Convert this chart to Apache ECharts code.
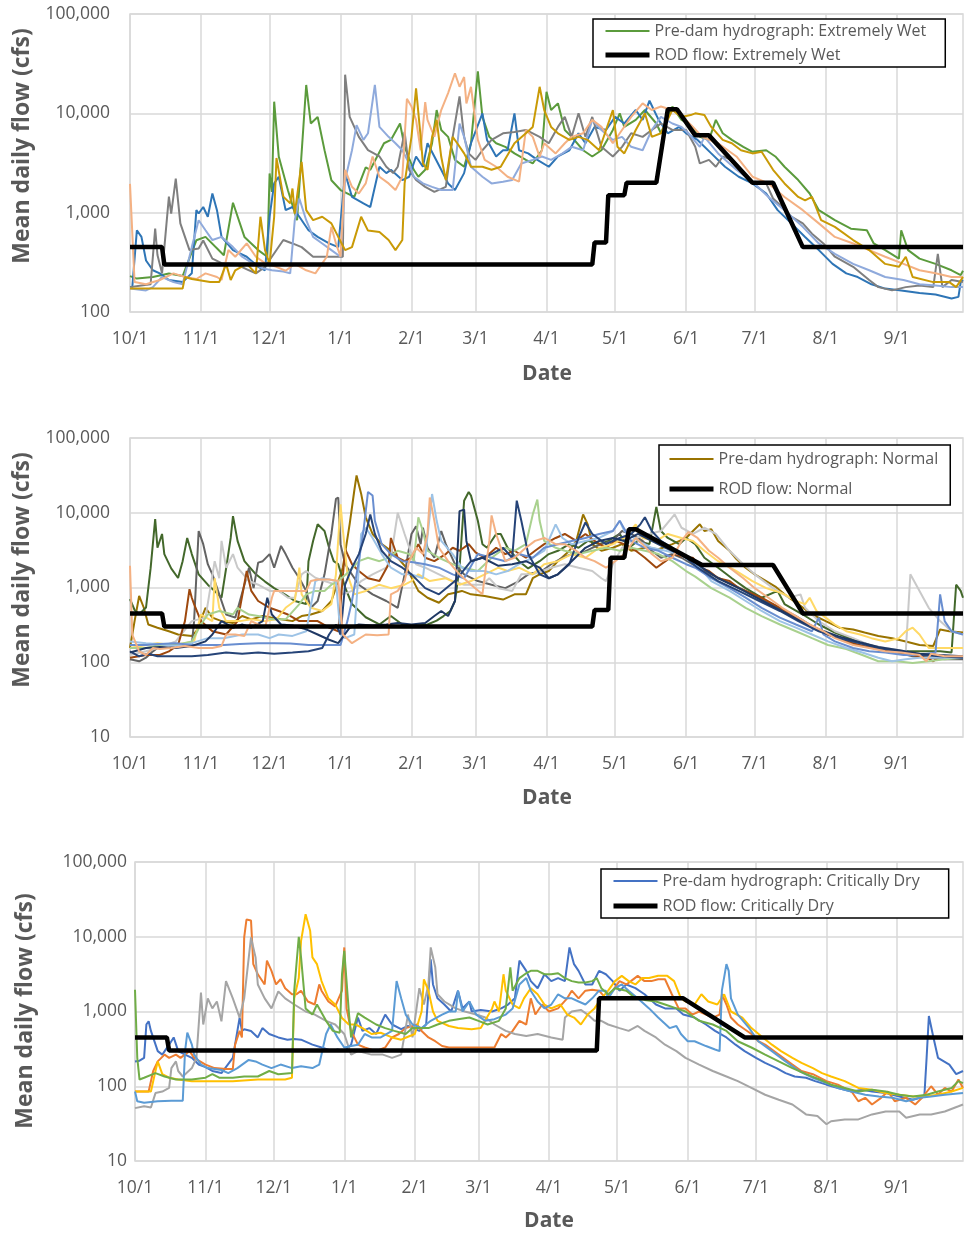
<!DOCTYPE html>
<html>
<head>
<meta charset="utf-8">
<script src="https://cdn.jsdelivr.net/npm/echarts@6/dist/echarts.min.js"></script>
<style>
html, body { margin: 0; padding: 0; background: #ffffff; }
#chart { width: 965px; height: 1237px; }
</style>
</head>
<body>
<div id="chart"></div>
<script>
// Water year runs 10/1 .. 9/30; x positions are day indices into dayLabels.
const monthNumbers = [10, 11, 12, 1, 2, 3, 4, 5, 6, 7, 8, 9];
const monthLengths = [31, 30, 31, 31, 28, 31, 30, 31, 30, 31, 31, 30];
const yTickMax = 100000;

// ---- Extremely Wet: pre-dam hydrographs [day, cfs] ----
const wetGreen = [[0,230],[3,217],[10,225],[17,244],[23,230],[27,400],[29,527],[33,570],[41,373],[45,1260],[50,570],[56,420],[60,360],[61,2480],[62,1620],[63,13100],[65,3670],[69,1680],[73,840],[77,19300],[79,7900],[82,9200],[85,4260],[88,2120],[92,1690],[98,1440],[103,2860],[105,2700],[108,3680],[111,5000],[114,5400],[118,7900],[120,4600],[122,3500],[124,2700],[126,2300],[129,2700],[132,5000],[134,10800],[136,6800],[139,5800],[142,3400],[146,2900],[149,5000],[152,26500],[154,9200],[157,5800],[160,5000],[164,4600],[168,3950],[173,3400],[176,3130],[180,4250],[182,16500],[184,10800],[187,12600],[190,6800],[193,5800],[198,4250],[202,3680],[206,4250],[211,6800],[214,10000],[216,7300],[221,8600],[225,10800],[230,7900],[232,6300],[237,11700],[241,8600],[244,7900],[249,5800],[253,5400],[256,8600],[259,6300],[263,5400],[268,4600],[272,4100],[278,4250],[282,3680],[286,2900],[292,2130],[297,1560],[301,1060],[308,840],[315,690],[322,665],[325,490],[330,420],[336,345],[337,665],[340,420],[345,345],[352,305],[359,263],[363,235],[364,260]];
const wetBlue = [[0,178],[1,178],[3,665],[5,570],[7,330],[10,263],[13,245],[17,210],[23,200],[27,245],[29,1060],[30,980],[32,1140],[34,910],[36,1560],[38,1060],[40,570],[45,420],[51,360],[56,285],[59,263],[61,910],[63,1970],[65,2300],[68,1060],[71,1140],[74,910],[78,665],[82,570],[87,490],[91,450],[94,2500],[97,1440],[102,1240],[105,1140],[109,2900],[112,2500],[114,2700],[119,2130],[122,2300],[125,3680],[128,2900],[130,5000],[133,3680],[136,2700],[139,1970],[142,1690],[146,2500],[149,5000],[154,10000],[156,5400],[160,3680],[163,4250],[165,4250],[168,10000],[170,4250],[174,3950],[178,3400],[183,2900],[187,3680],[192,4250],[196,6300],[199,5000],[203,7300],[208,6800],[212,9200],[216,7900],[221,10800],[224,8600],[227,13400],[231,8600],[235,6300],[240,7300],[243,6300],[248,5400],[254,3950],[260,2900],[266,2300],[272,1970],[278,1560],[283,1060],[289,780],[295,570],[301,420],[307,305],[313,245],[318,225],[324,190],[330,172],[337,165],[345,155],[352,150],[359,137],[362,142],[363,200],[364,210]];
const wetGray = [[0,178],[5,185],[9,190],[11,690],[12,375],[14,245],[17,1450],[18,980],[20,2200],[22,780],[26,420],[30,435],[32,525],[36,345],[40,310],[46,305],[52,263],[55,245],[59,285],[62,360],[67,530],[71,490],[75,450],[80,360],[85,360],[93,360],[94,24500],[96,9200],[100,5800],[104,4260],[109,3680],[112,2900],[115,2500],[117,2900],[120,6500],[122,2700],[125,2130],[129,1820],[133,1620],[138,1820],[141,5800],[143,10800],[144,14800],[146,5800],[148,3950],[151,3400],[154,4250],[158,5400],[163,6300],[168,6500],[173,6800],[179,5800],[183,5000],[187,7300],[190,9200],[193,5800],[196,10000],[199,5800],[202,9200],[206,4600],[211,3680],[215,4600],[219,6300],[224,5800],[228,6800],[232,7900],[237,6800],[243,6800],[247,4600],[249,3130],[253,3400],[256,2900],[259,3680],[263,3400],[268,2500],[273,1970],[278,1970],[281,1390],[285,1140],[289,910],[294,780],[298,615],[303,490],[308,360],[316,285],[323,210],[327,178],[333,165],[339,178],[345,185],[351,178],[353,385],[355,178],[359,210],[364,200]];
const wetLightBlue = [[0,172],[7,165],[10,178],[14,225],[19,200],[23,190],[27,450],[30,840],[33,665],[36,530],[40,570],[45,450],[49,360],[54,305],[58,275],[62,263],[67,255],[70,245],[72,840],[74,1390],[77,840],[80,570],[84,490],[88,420],[92,360],[94,2130],[97,4250],[99,7600],[102,5400],[104,6300],[107,19300],[109,7300],[113,5800],[116,5000],[119,4250],[122,3130],[124,2300],[128,1970],[132,1820],[136,1690],[141,1690],[144,7900],[146,5800],[149,2900],[154,2300],[158,1970],[163,2050],[167,2130],[171,3130],[176,3400],[180,3680],[184,3400],[189,3950],[193,4600],[198,4250],[202,8600],[206,6800],[211,5400],[215,5800],[219,4600],[224,4250],[228,6800],[232,9200],[237,7900],[241,7300],[244,6300],[249,4600],[251,5800],[257,3950],[265,2700],[272,2050],[279,1440],[286,1060],[294,720],[301,490],[308,385],[316,305],[323,263],[330,225],[338,210],[345,190],[352,185],[359,178],[364,178]];
const wetSalmon = [[0,1950],[2,200],[7,190],[13,210],[19,245],[24,225],[29,215],[33,245],[38,225],[40,210],[43,420],[46,360],[51,490],[55,360],[59,310],[64,285],[68,260],[72,305],[77,263],[81,245],[86,360],[88,720],[90,490],[92,360],[94,2700],[97,1820],[100,1560],[103,1970],[106,3680],[109,2300],[113,1970],[116,1690],[119,2300],[121,14000],[123,11700],[125,8600],[127,4250],[129,13000],[130,8600],[133,5800],[136,10800],[139,16000],[142,25300],[144,18500],[146,23200],[147,12600],[149,18500],[152,5400],[155,3400],[160,2900],[165,2300],[170,2050],[173,6800],[176,5800],[179,3650],[181,5000],[186,3950],[190,5000],[193,5800],[198,6300],[202,8600],[206,7300],[211,5000],[215,6800],[219,9200],[224,12600],[228,10800],[232,11700],[237,10800],[242,9000],[246,7300],[250,5800],[257,5000],[265,3680],[272,2300],[279,1970],[286,1440],[294,1060],[301,780],[308,570],[316,490],[323,420],[330,360],[338,305],[345,263],[352,245],[359,225],[364,225]];
const wetGold = [[0,172],[10,172],[23,172],[24,225],[27,215],[35,200],[39,200],[42,305],[44,210],[46,263],[51,305],[55,245],[57,910],[59,420],[61,305],[63,910],[64,3550],[67,1450],[70,1240],[71,1750],[72,980],[75,3250],[77,1060],[80,840],[84,910],[88,780],[91,570],[94,420],[97,450],[101,910],[104,660],[109,640],[113,530],[116,420],[119,530],[120,1970],[123,5800],[125,17800],[127,5800],[128,3130],[130,2690],[132,5800],[134,8600],[136,3650],[138,2130],[141,5800],[143,5000],[146,3950],[149,2900],[154,2900],[158,2700],[162,2900],[168,5000],[173,6300],[176,7300],[179,18500],[181,10800],[184,7300],[187,6300],[192,5400],[196,5800],[200,5400],[205,4250],[211,10800],[213,4600],[216,3950],[221,6800],[225,10000],[228,5800],[232,6300],[237,10800],[241,9200],[245,9600],[247,10000],[251,9600],[254,7300],[259,5400],[263,5000],[267,4250],[272,3950],[276,4100],[281,2700],[286,1970],[292,1440],[295,1330],[298,1440],[302,840],[308,720],[316,530],[323,420],[330,305],[336,285],[339,360],[342,225],[351,200],[358,200],[361,178],[364,225]];
const wetRod = [[0,450],[14,450],[15,300],[202,300],[203,500],[208,500],[209,1500],[216,1500],[217,2000],[230,2000],[235,11000],[239,11000],[247,6000],[253,6000],[272,2000],[281,2000],[294,450],[364,450]];

// ---- Normal: pre-dam hydrographs [day, cfs] ----
const normOlive = [[0,155],[2,355],[4,770],[6,540],[8,320],[12,290],[17,260],[21,235],[27,225],[29,260],[33,535],[36,395],[40,355],[45,335],[49,415],[53,375],[58,415],[62,395],[66,375],[71,355],[75,415],[79,435],[84,485],[88,660],[93,1840],[96,7100],[98,19700],[99,31500],[101,18000],[103,8700],[106,5200],[110,3800],[114,3100],[117,2500],[121,1800],[126,900],[130,730],[135,625],[139,810],[142,850],[145,900],[149,810],[155,770],[163,690],[168,810],[173,810],[176,1330],[179,1500],[183,1660],[187,2250],[192,3100],[195,4200],[198,9500],[200,7000],[202,3800],[206,3100],[211,3400],[215,3800],[219,3100],[225,3400],[231,3250],[237,3800],[243,4600],[246,5700],[249,7000],[251,5700],[254,6000],[257,4200],[262,3100],[265,2400],[269,1840],[273,1500],[278,1220],[282,1030],[286,810],[292,600],[298,435],[304,355],[310,290],[316,275],[321,250],[327,225],[333,210],[339,190],[345,170],[351,165],[354,275],[358,260],[364,250]];
const normDarkGreen = [[0,700],[2,500],[4,440],[7,540],[9,1800],[11,8200],[12,3400],[14,5200],[15,2800],[18,1800],[21,1340],[23,2250],[25,4600],[27,2800],[30,1500],[34,1090],[37,900],[40,730],[42,1800],[44,4600],[45,9000],[47,4200],[50,2250],[55,1500],[59,1200],[63,980],[68,800],[72,660],[77,600],[78,2250],[80,4200],[82,7000],[85,5700],[87,3400],[89,2250],[91,2050],[94,1000],[97,600],[103,400],[109,320],[114,415],[119,320],[123,300],[130,320],[134,360],[137,415],[140,485],[142,660],[144,1840],[146,14500],[148,19000],[149,17000],[152,7800],[154,3800],[156,3400],[160,5200],[162,5200],[165,3400],[170,2250],[174,1800],[179,2250],[183,2800],[187,3100],[192,3800],[196,3400],[200,4200],[205,3800],[209,4200],[214,5200],[218,3400],[222,4200],[227,3800],[230,12000],[232,5700],[235,4600],[240,3800],[243,4600],[247,3800],[251,2500],[257,1840],[263,1330],[269,980],[276,730],[283,900],[286,600],[294,435],[301,320],[308,250],[316,200],[323,170],[330,150],[338,140],[345,140],[354,140],[359,135],[361,1090],[363,900],[364,730]];
const normDarkGray = [[0,110],[4,103],[7,115],[10,140],[12,155],[17,155],[21,165],[27,170],[28,355],[30,5700],[32,3800],[34,2050],[36,1500],[39,810],[42,435],[46,395],[50,1090],[52,1840],[54,980],[56,2150],[58,2250],[61,2800],[63,1840],[66,3600],[68,2800],[71,1840],[74,1330],[77,900],[79,535],[82,660],[85,1500],[88,5200],[90,15300],[91,16000],[92,3800],[94,2050],[100,1090],[106,810],[112,660],[117,535],[120,1500],[123,5200],[125,6600],[127,3800],[128,6300],[130,3400],[133,2500],[136,5700],[138,3800],[142,2050],[146,1500],[152,1220],[158,1090],[164,980],[170,1220],[174,1500],[180,1660],[184,2050],[189,2500],[193,2800],[198,2950],[202,3400],[206,3800],[211,4200],[215,5700],[219,5200],[224,4200],[228,3100],[232,2500],[237,2800],[241,2500],[247,1950],[254,1500],[262,1140],[269,900],[276,700],[284,535],[291,415],[298,305],[305,235],[313,190],[320,165],[327,150],[335,135],[342,120],[349,115],[356,110],[364,110]];
const normLightGray = [[0,125],[7,140],[12,155],[20,190],[27,355],[33,395],[37,2250],[39,1330],[40,4200],[42,1840],[45,2800],[47,1840],[52,1220],[56,1090],[61,900],[65,900],[69,730],[72,730],[75,1500],[77,1660],[81,1350],[85,1220],[90,1090],[93,810],[97,900],[101,1220],[106,1500],[112,1840],[114,2500],[117,10000],[120,5200],[123,2800],[125,2050],[129,1840],[135,1500],[141,1220],[146,1090],[154,1090],[157,1330],[161,980],[167,900],[171,1500],[176,1500],[180,1660],[184,1840],[190,2050],[196,1840],[202,1660],[206,1330],[208,1220],[211,2050],[215,3400],[221,4600],[227,5200],[232,5700],[238,9500],[241,6300],[246,5200],[251,6300],[256,5200],[262,3100],[268,2050],[273,1500],[281,980],[288,730],[293,810],[295,535],[301,355],[308,260],[316,210],[323,170],[330,155],[339,140],[341,1500],[345,900],[349,535],[354,355],[359,260],[364,235]];
const normBrown = [[0,115],[7,125],[13,125],[17,140],[21,170],[24,355],[26,950],[27,730],[28,600],[31,355],[36,260],[42,235],[47,355],[51,1660],[53,900],[56,660],[61,535],[65,485],[69,435],[74,355],[82,355],[87,290],[91,260],[94,3250],[97,2050],[100,1660],[104,1330],[109,1220],[113,2050],[114,4600],[117,2500],[120,2250],[123,2500],[126,3800],[129,2500],[133,2250],[138,2800],[141,3400],[144,3100],[148,3800],[151,2950],[155,2500],[160,3400],[164,2800],[168,3100],[173,2500],[177,3100],[181,3800],[186,4600],[190,5200],[195,4200],[199,5200],[203,4200],[208,3400],[212,4200],[216,3800],[221,3100],[225,2500],[230,1840],[234,2250],[238,2800],[243,2500],[246,2500],[249,1840],[253,1660],[257,1330],[262,1220],[266,980],[269,900],[276,730],[284,535],[291,395],[298,290],[305,235],[313,190],[320,165],[327,150],[335,140],[342,125],[348,115],[351,103],[354,120],[359,115],[364,115]];
const normYellow = [[0,155],[7,170],[12,180],[18,170],[24,180],[28,190],[31,435],[36,355],[37,1330],[39,535],[42,355],[48,355],[53,375],[59,355],[64,375],[68,535],[72,660],[74,1840],[75,810],[79,535],[84,485],[88,600],[90,1500],[92,13000],[93,6000],[95,1500],[98,810],[103,900],[109,1090],[114,980],[120,1090],[123,1220],[126,1500],[131,1220],[138,1330],[144,1090],[149,1220],[155,1500],[161,1840],[165,1660],[170,1840],[176,1500],[181,2050],[187,2250],[193,2800],[199,2500],[205,3400],[211,3800],[216,4600],[221,7000],[224,4600],[230,4200],[235,5200],[241,4600],[246,4200],[251,3100],[257,2250],[265,1660],[272,1220],[278,980],[282,900],[286,810],[291,660],[295,600],[297,730],[300,485],[304,395],[308,320],[313,260],[319,235],[324,210],[330,190],[336,210],[339,260],[342,290],[345,235],[349,155],[359,155],[364,155]];
const normLightGreen = [[0,155],[7,155],[13,170],[20,170],[27,190],[31,320],[34,435],[39,485],[45,435],[47,535],[52,435],[56,415],[62,375],[68,375],[74,600],[77,810],[81,900],[85,900],[88,1090],[91,1220],[96,1660],[100,2250],[104,2500],[109,2250],[113,2500],[117,3100],[122,2800],[124,2250],[126,8700],[128,5700],[130,3100],[135,2500],[141,2050],[146,1840],[152,1660],[158,2500],[164,3400],[168,3100],[173,3800],[176,9500],[178,15000],[179,7800],[181,4200],[186,3400],[190,3100],[196,2800],[202,3100],[208,3400],[214,3100],[219,3400],[225,3100],[231,2800],[237,2250],[243,1660],[247,1400],[254,980],[262,730],[269,535],[276,415],[284,320],[291,260],[298,210],[305,170],[313,150],[320,125],[327,103],[335,103],[342,98],[349,103],[356,110],[364,115]];
const normLightBlue = [[0,190],[7,180],[12,175],[20,165],[27,180],[34,210],[41,210],[49,235],[56,235],[61,210],[65,235],[71,225],[77,260],[81,1220],[84,1330],[87,1280],[90,1220],[92,235],[94,210],[98,235],[101,5200],[103,6300],[106,4600],[110,2800],[114,1840],[119,1500],[123,1500],[128,1330],[132,17800],[134,7800],[136,4200],[141,2800],[145,1840],[149,1660],[155,1660],[160,1500],[165,1660],[170,2050],[176,2500],[181,3100],[186,7000],[189,4600],[193,3800],[199,4200],[205,4600],[211,5700],[214,7800],[216,5700],[222,4200],[228,3400],[234,3100],[240,2800],[245,2250],[249,1840],[254,1220],[262,900],[269,660],[276,485],[284,355],[291,290],[298,235],[305,190],[313,155],[320,135],[327,115],[333,103],[339,110],[345,115],[364,115]];
const normMedBlue = [[0,170],[7,170],[13,175],[20,180],[27,170],[34,170],[41,170],[48,175],[56,180],[63,180],[70,178],[78,170],[85,170],[92,170],[95,355],[97,660],[100,2250],[102,5700],[104,19000],[106,17000],[107,7800],[110,3800],[114,2800],[119,2250],[123,2200],[129,2050],[135,1840],[141,1500],[146,1330],[152,2800],[158,2500],[164,2250],[170,2800],[176,2500],[181,3400],[187,3800],[193,4200],[199,4600],[205,5200],[211,5700],[214,7800],[219,4200],[225,3400],[231,3100],[237,2500],[243,2050],[247,1840],[254,1330],[262,980],[269,730],[276,535],[284,395],[291,320],[298,260],[301,395],[303,235],[308,190],[316,155],[323,140],[330,135],[338,125],[345,125],[352,135],[354,810],[356,355],[359,260],[364,235]];
const normNavyA = [[0,140],[4,120],[8,130],[12,120],[20,120],[27,120],[34,125],[42,135],[49,130],[56,135],[63,130],[71,135],[78,140],[84,155],[87,235],[90,320],[92,235],[94,1090],[97,1840],[100,2800],[103,5200],[105,9500],[107,5200],[110,3100],[114,2250],[119,1840],[123,1500],[129,980],[135,810],[142,1220],[149,2250],[154,2500],[158,2800],[163,3400],[167,2500],[169,14500],[171,7800],[174,2800],[179,1500],[183,1330],[187,1500],[192,2050],[196,4600],[199,7400],[202,5200],[208,3800],[214,4600],[219,5200],[223,7000],[225,8700],[228,5700],[232,4200],[237,3400],[243,2500],[248,1840],[257,1220],[266,900],[275,660],[284,485],[292,355],[301,260],[310,210],[319,180],[327,155],[336,140],[345,125],[354,120],[364,115]];
const normNavyB = [[0,135],[7,155],[13,160],[20,155],[27,165],[33,190],[36,235],[40,355],[45,290],[49,320],[53,290],[58,355],[60,730],[62,435],[66,320],[71,310],[77,275],[82,235],[87,200],[91,180],[96,290],[100,320],[106,310],[112,320],[117,335],[123,320],[129,335],[133,415],[136,485],[139,415],[142,660],[144,10500],[146,11000],[147,4200],[149,2250],[154,2500],[161,1950],[167,2050],[173,2250],[179,1840],[183,1330],[187,1500],[193,2250],[199,3400],[205,4200],[211,4600],[216,4200],[222,5200],[228,4200],[234,3400],[240,2800],[246,2250],[250,1840],[257,1330],[266,980],[275,700],[284,500],[292,370],[301,275],[310,220],[319,185],[327,160],[336,145],[345,130],[354,125],[364,120]];
const normSalmon = [[0,1950],[1,235],[4,140],[7,125],[10,155],[13,150],[18,155],[24,165],[30,155],[36,155],[40,165],[42,235],[46,235],[50,225],[53,355],[56,320],[59,290],[62,730],[63,900],[68,900],[72,900],[77,900],[79,1220],[82,1280],[87,1280],[91,1220],[93,235],[97,180],[103,235],[108,230],[113,235],[114,810],[117,900],[120,1220],[122,2250],[125,3400],[128,2800],[130,5200],[131,16000],[133,7800],[135,3400],[139,2250],[144,1500],[149,1090],[154,810],[157,4200],[158,9200],[160,5200],[164,2250],[168,2500],[173,3400],[177,4200],[181,4600],[186,3800],[190,3800],[195,3100],[199,2500],[203,2250],[208,1840],[212,2250],[216,2800],[221,4600],[224,3800],[228,2800],[232,2250],[237,2500],[241,4200],[244,5500],[248,4600],[253,3100],[257,2500],[262,1840],[268,1330],[273,980],[279,730],[285,535],[291,415],[297,320],[303,260],[308,210],[316,170],[323,155],[330,140],[337,135],[345,125],[348,103],[350,130],[356,120],[364,120]];
const normRod = [[0,450],[14,450],[15,300],[202,300],[203,500],[209,500],[210,2500],[216,2500],[218,6000],[221,6000],[250,2000],[281,2000],[294,450],[364,450]];

// ---- Critically Dry: pre-dam hydrographs [day, cfs] ----
const dryBlue = [[0,215],[2,220],[4,240],[5,670],[6,740],[7,550],[10,295],[12,265],[15,360],[17,450],[19,295],[22,265],[25,240],[28,195],[31,180],[34,160],[38,150],[43,240],[46,830],[47,550],[48,580],[51,550],[54,450],[56,600],[59,500],[63,450],[67,420],[70,430],[73,420],[78,360],[82,330],[87,295],[89,310],[92,295],[95,360],[98,830],[100,550],[103,600],[106,500],[110,910],[113,670],[117,580],[120,640],[125,550],[128,670],[130,5000],[131,2300],[133,1500],[136,1240],[139,1000],[142,1900],[144,1100],[147,1360],[148,1000],[152,1050],[157,1000],[161,1100],[164,1240],[167,1500],[169,4800],[172,3500],[174,2550],[177,2050],[180,3150],[183,2550],[186,2800],[189,2550],[191,7200],[193,4300],[195,3500],[198,2300],[201,2300],[204,3500],[207,3150],[210,2550],[213,1900],[216,2300],[220,2050],[224,1700],[229,1240],[233,1100],[238,1100],[241,910],[246,830],[251,670],[255,550],[260,450],[264,360],[268,295],[273,240],[277,205],[282,175],[286,150],[290,135],[295,130],[299,117],[304,105],[309,95],[315,85],[320,90],[324,85],[330,81],[336,73],[342,66],[347,73],[348,240],[349,870],[351,450],[353,240],[358,195],[361,145],[364,160]];
const dryOrange = [[0,85],[6,85],[8,160],[10,215],[13,265],[15,240],[18,265],[20,240],[24,295],[26,240],[31,195],[35,175],[40,170],[43,170],[44,360],[46,550],[47,450],[48,9800],[49,17000],[51,16500],[52,4300],[54,3150],[57,2300],[58,4800],[60,3500],[62,2300],[64,2700],[66,2050],[69,1700],[71,1700],[73,1900],[76,1360],[79,1240],[81,2300],[82,1900],[85,1360],[88,1170],[91,1900],[92,7200],[93,1100],[95,550],[98,360],[101,330],[106,295],[110,330],[113,450],[116,500],[119,600],[122,640],[124,670],[126,550],[129,450],[132,400],[135,345],[138,330],[148,330],[158,330],[161,500],[163,450],[166,550],[169,750],[172,670],[174,1500],[176,910],[179,1240],[182,1000],[186,1100],[190,1500],[192,1900],[195,1500],[198,1900],[201,1950],[204,1900],[207,1500],[210,1900],[213,2550],[216,2300],[218,2550],[221,3000],[224,2550],[227,2550],[230,2700],[233,2700],[236,1700],[239,1100],[242,1100],[245,910],[248,1000],[251,910],[254,830],[257,910],[258,1700],[260,1240],[262,830],[265,670],[271,500],[274,400],[277,360],[283,265],[289,195],[293,160],[298,145],[304,117],[309,105],[315,85],[318,63],[321,70],[324,57],[328,70],[331,85],[334,63],[339,70],[343,57],[346,70],[350,100],[353,77],[356,95],[359,85],[362,123],[364,95]];
const dryGray = [[0,51],[4,54],[7,52],[9,81],[12,85],[15,95],[16,175],[18,215],[19,160],[21,135],[25,175],[27,240],[29,1790],[30,670],[32,1500],[34,1100],[36,1360],[38,740],[40,2550],[43,1500],[46,830],[48,1500],[51,9800],[53,5300],[54,2300],[57,1500],[60,1100],[63,1860],[66,1500],[70,1240],[75,1000],[79,910],[84,750],[88,670],[92,500],[95,265],[98,295],[104,265],[109,265],[113,240],[117,265],[120,910],[122,450],[125,2050],[127,1240],[129,2300],[130,7200],[132,3900],[133,1700],[136,1360],[141,1100],[145,1000],[150,910],[154,830],[158,670],[163,550],[167,500],[172,470],[177,500],[183,450],[188,420],[189,830],[192,1000],[196,1050],[199,910],[202,750],[205,750],[208,670],[213,600],[217,550],[221,640],[224,550],[229,450],[233,360],[238,295],[242,240],[248,195],[254,160],[260,135],[265,117],[271,95],[277,77],[283,66],[289,57],[295,42],[300,40],[304,31],[306,34],[312,36],[318,36],[324,42],[330,46],[336,46],[339,38],[345,42],[350,42],[356,46],[362,54],[364,57]];
const dryYellow = [[0,85],[7,85],[9,160],[10,215],[12,145],[15,130],[19,123],[25,117],[37,117],[43,117],[54,123],[66,123],[69,130],[70,1500],[72,2800],[73,8800],[75,20000],[77,12000],[78,5300],[80,4300],[82,2550],[85,1500],[88,1240],[91,820],[94,670],[97,670],[100,600],[104,500],[108,520],[113,450],[117,420],[120,460],[123,500],[126,1000],[127,2700],[129,1900],[131,1000],[133,750],[138,640],[142,600],[148,580],[152,600],[157,1100],[158,1360],[160,1000],[162,3150],[163,1900],[166,1240],[169,1100],[171,1500],[174,2050],[177,1700],[180,1240],[183,1100],[187,1240],[190,910],[193,830],[196,670],[199,910],[202,1100],[205,1500],[208,1900],[211,2550],[214,3000],[217,2550],[220,2300],[223,2800],[226,2800],[230,3000],[234,3000],[237,2550],[240,1500],[242,1360],[246,1240],[249,1700],[252,1360],[256,1240],[259,1700],[262,1000],[267,830],[271,600],[276,450],[280,360],[284,295],[289,240],[293,205],[298,175],[302,150],[306,135],[312,117],[318,95],[324,90],[330,81],[336,77],[342,73],[347,73],[353,77],[359,85],[364,95]];
const dryLightBlue = [[0,85],[1,63],[4,60],[10,63],[16,64],[21,64],[22,295],[23,520],[25,360],[26,265],[29,195],[32,175],[35,170],[38,165],[41,150],[45,175],[50,225],[53,215],[56,195],[60,175],[64,195],[69,175],[73,185],[78,175],[81,195],[84,500],[86,670],[89,450],[92,330],[95,345],[98,360],[101,500],[104,450],[108,450],[113,550],[115,2550],[117,1500],[119,910],[122,670],[126,600],[130,750],[135,910],[138,1000],[141,1000],[142,1900],[144,1000],[147,1360],[150,910],[154,750],[158,790],[163,910],[166,1100],[169,2300],[172,2800],[174,1900],[177,1360],[180,1100],[183,1240],[186,1700],[189,1500],[192,1500],[195,1360],[198,1240],[201,1500],[204,1900],[207,1900],[208,1500],[211,2050],[214,2300],[217,1900],[221,1500],[226,1100],[230,830],[235,600],[238,640],[240,500],[243,400],[246,400],[251,345],[255,310],[257,295],[258,1900],[260,4300],[261,3500],[262,1500],[265,910],[270,600],[274,400],[280,295],[286,215],[292,160],[298,130],[304,110],[309,95],[315,85],[321,77],[327,73],[333,70],[339,63],[345,70],[350,73],[356,77],[364,81]];
const dryGreen = [[0,1950],[1,240],[2,123],[4,130],[9,150],[13,135],[18,123],[25,123],[31,130],[34,145],[37,130],[43,130],[48,135],[54,135],[59,160],[63,145],[69,150],[70,1900],[72,10000],[73,5300],[75,1100],[78,910],[80,1240],[84,750],[87,550],[90,520],[91,3150],[92,6500],[94,1000],[95,450],[98,950],[101,830],[106,670],[110,600],[114,550],[119,500],[122,600],[125,600],[129,600],[133,670],[138,750],[142,790],[147,830],[151,750],[155,670],[160,750],[163,1100],[165,3900],[166,1900],[169,2800],[172,3250],[174,3500],[177,3500],[180,3150],[183,3150],[186,3250],[189,2800],[192,2550],[195,2450],[198,2450],[201,2550],[203,2800],[205,2050],[208,1700],[211,2050],[216,1900],[220,1500],[224,1430],[229,1360],[233,1240],[238,1100],[242,1000],[248,750],[254,670],[260,550],[265,400],[271,330],[277,265],[283,215],[289,175],[295,145],[301,123],[306,105],[312,95],[318,85],[324,90],[330,85],[336,77],[342,73],[348,77],[353,85],[359,95],[362,117],[364,110]];
const dryRod = [[0,450],[14,450],[15,300],[203,300],[204,1500],[241,1500],[268,450],[364,450]];

// ---- axis labels ----
const dayLabels = [];
monthNumbers.forEach((m, i) => {
  for (let d = 1; d <= monthLengths[i]; d++) dayLabels.push(m + '/' + d);
});
const isMonthStart = (idx, val) => String(val).endsWith('/1');

const FONT = '"Open Sans", Lato, sans-serif';
const TEXT = '#595959';
const GRIDLINE = '#D9D9D9';
const HYDRO_WIDTH = 2;
const ROD_WIDTH = 4.5;

const panels = [
  {
    grid: { left: 130, top: 14, width: 833, height: 298 },
    yMin: 100, labelMargin: 20,
    legend: { left: 593, top: 19, padding: [2, 19, 2, 10], itemGap: 4 },
    titleY: { x: 22, y: 146 }, titleX: { x: 547, y: 374 },
    rodName: 'ROD flow: Extremely Wet',
    hydro: [
      { name: 'Pre-dam hydrograph: Extremely Wet', color: '#5B9B3C', data: wetGreen },
      { name: 'Extremely Wet B', color: '#2E75B6', data: wetBlue },
      { name: 'Extremely Wet C', color: '#7F7F7F', data: wetGray },
      { name: 'Extremely Wet D', color: '#8FAADC', data: wetLightBlue },
      { name: 'Extremely Wet E', color: '#F4B183', data: wetSalmon },
      { name: 'Extremely Wet F', color: '#C99A06', data: wetGold }
    ],
    rod: wetRod
  },
  {
    grid: { left: 130, top: 438, width: 833, height: 299 },
    yMin: 10, labelMargin: 20,
    legend: { left: 659, top: 445, padding: [4, 12, 6, 8], itemGap: 10 },
    titleY: { x: 22, y: 570 }, titleX: { x: 547, y: 798 },
    rodName: 'ROD flow: Normal',
    hydro: [
      { name: 'Pre-dam hydrograph: Normal', color: '#997300', data: normOlive },
      { name: 'Normal B', color: '#43682B', data: normDarkGreen },
      { name: 'Normal C', color: '#636363', data: normDarkGray },
      { name: 'Normal D', color: '#C9C9C9', data: normLightGray },
      { name: 'Normal E', color: '#9E480E', data: normBrown },
      { name: 'Normal F', color: '#FFD966', data: normYellow },
      { name: 'Normal G', color: '#A9D18E', data: normLightGreen },
      { name: 'Normal H', color: '#9DC3E6', data: normLightBlue },
      { name: 'Normal I', color: '#698ED0', data: normMedBlue },
      { name: 'Normal J', color: '#264478', data: normNavyA },
      { name: 'Normal K', color: '#1F3864', data: normNavyB },
      { name: 'Normal L', color: '#F4B183', data: normSalmon }
    ],
    rod: normRod
  },
  {
    grid: { left: 135, top: 862, width: 828, height: 299 },
    yMin: 10, labelMargin: 8,
    legend: { left: 601, top: 869, padding: [2, 29, 2, 10], itemGap: 5 },
    titleY: { x: 25, y: 1011 }, titleX: { x: 549, y: 1221 },
    rodName: 'ROD flow: Critically Dry',
    hydro: [
      { name: 'Pre-dam hydrograph: Critically Dry', color: '#4472C4', data: dryBlue },
      { name: 'Critically Dry B', color: '#ED7D31', data: dryOrange },
      { name: 'Critically Dry C', color: '#A5A5A5', data: dryGray },
      { name: 'Critically Dry D', color: '#FFC000', data: dryYellow },
      { name: 'Critically Dry E', color: '#5B9BD5', data: dryLightBlue },
      { name: 'Critically Dry F', color: '#70AD47', data: dryGreen }
    ],
    rod: dryRod
  }
];

const option = {
  animation: false,
  backgroundColor: '#ffffff',
  textStyle: { fontFamily: FONT },
  grid: [], xAxis: [], yAxis: [], legend: [], series: [], graphic: []
};

panels.forEach((p, i) => {
  option.grid.push(Object.assign({ show: true, borderColor: GRIDLINE, borderWidth: 1.5, containLabel: false }, p.grid));
  option.xAxis.push({
    type: 'category', gridIndex: i, data: dayLabels, boundaryGap: false,
    axisLine: { show: false }, axisTick: { show: false },
    axisLabel: { interval: isMonthStart, color: TEXT, fontSize: 17.5, fontFamily: FONT, margin: 18 },
    splitLine: { show: true, interval: isMonthStart, lineStyle: { color: GRIDLINE, width: 1.5 } }
  });
  option.yAxis.push({
    type: 'log', logBase: 10, gridIndex: i, min: p.yMin, max: yTickMax,
    axisLine: { show: false }, axisTick: { show: false },
    axisLabel: {
      color: TEXT, fontSize: 17.5, fontFamily: FONT, margin: p.labelMargin,
      formatter: v => Math.round(v).toLocaleString('en-US')
    },
    splitLine: { show: true, lineStyle: { color: GRIDLINE, width: 1.5 } }
  });
  p.hydro.forEach(h => {
    option.series.push({
      type: 'line', name: h.name, xAxisIndex: i, yAxisIndex: i, data: h.data,
      symbol: 'none', silent: true, z: 2,
      lineStyle: { color: h.color, width: HYDRO_WIDTH }, itemStyle: { color: h.color },
      emphasis: { disabled: true }
    });
  });
  option.series.push({
    type: 'line', name: p.rodName, xAxisIndex: i, yAxisIndex: i, data: p.rod,
    symbol: 'none', silent: true, z: 3,
    lineStyle: { color: '#000000', width: ROD_WIDTH }, itemStyle: { color: '#000000' },
    emphasis: { disabled: true }
  });
  option.legend.push({
    data: [
      { name: p.hydro[0].name, lineStyle: { width: HYDRO_WIDTH } },
      { name: p.rodName, lineStyle: { width: 5 } }
    ],
    orient: 'vertical',
    left: p.legend.left, top: p.legend.top, padding: p.legend.padding, itemGap: p.legend.itemGap,
    itemWidth: 44, itemHeight: 14, selectedMode: false,
    itemStyle: { opacity: 0 },
    backgroundColor: '#ffffff', borderColor: '#000000', borderWidth: 1.5,
    textStyle: { color: TEXT, fontSize: 16, fontFamily: FONT, lineHeight: 20 }
  });
  option.graphic.push({
    type: 'text', x: p.titleY.x, y: p.titleY.y, rotation: Math.PI / 2,
    style: { text: 'Mean daily flow (cfs)', font: 'bold 23px ' + FONT, fill: TEXT, textAlign: 'center', textVerticalAlign: 'middle' }
  });
  option.graphic.push({
    type: 'text', x: p.titleX.x, y: p.titleX.y,
    style: { text: 'Date', font: 'bold 21px ' + FONT, fill: TEXT, textAlign: 'center', textVerticalAlign: 'middle' }
  });
});

const chart = echarts.init(document.getElementById('chart'), null, { renderer: 'canvas' });
chart.setOption(option);
</script>
</body>
</html>
